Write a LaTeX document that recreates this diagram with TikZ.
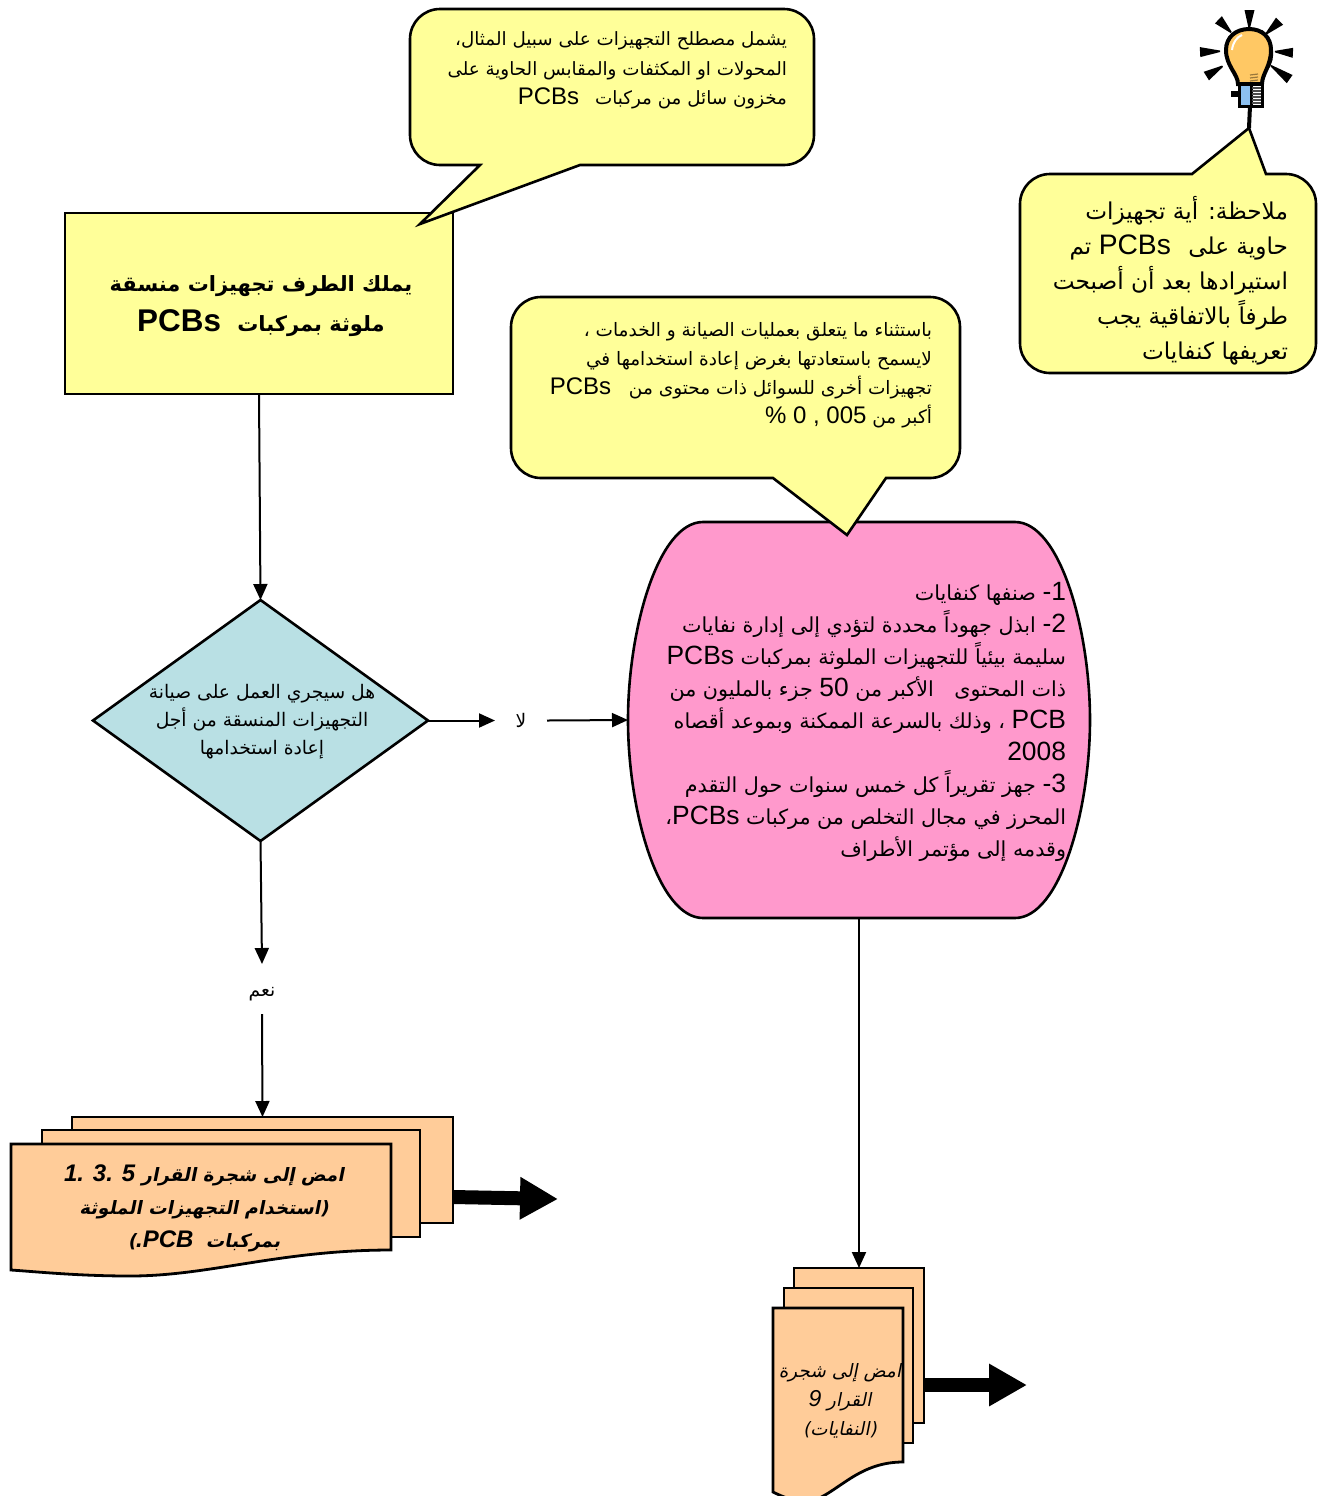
\documentclass[tikz,border=0pt]{standalone}
\usepackage{fontspec}
\usetikzlibrary{arrows.meta,shapes.geometric}
\TeXXeTstate=1
\setmainfont{Liberation Sans}
\newfontfamily\arabicfont[Script=Arabic]{DejaVu Sans}
\newfontfamily\arabicslant[Script=Arabic,FakeSlant=0.2]{DejaVu Sans}
\newcommand{\latpt}{12}
\newcommand{\rl}[1]{\beginR #1\endR}
\newcommand{\lat}[1]{\beginL{\fontspec{Liberation Sans}\fontsize{\latpt}{\latpt}\selectfont #1}\endL{}}
\definecolor{notefill}{HTML}{FFFF99}
\definecolor{sheetfill}{HTML}{FFCC99}
\definecolor{wastefill}{HTML}{FF99CC}
\definecolor{askfill}{HTML}{B9E0E4}
\definecolor{bulbfill}{HTML}{FFC864}
\definecolor{capfill}{HTML}{8CC0F0}
\tikzset{
	notebox/.style={draw=black, line width=1.3pt, fill=notefill, rounded corners=15pt},
	sheetbox/.style={draw=black, line width=1.4pt, fill=sheetfill},
	flowline/.style={draw=black, line width=1pt, -{Triangle[length=8pt,width=7pt]}},
	fatline/.style={draw=black, line width=7pt, -{Triangle[length=19pt,width=20pt]}},
	rtext/.style={align=right, inner sep=0pt, anchor=north east, text=black},
	ctext/.style={align=center, inner sep=0pt, text=black},
}
\begin{document}
\begin{tikzpicture}[x=0.5pt, y=-0.5pt, every node/.style={outer sep=0pt}]
	\useasboundingbox (0,0) rectangle (1319,1496);
	% main box and question
	\node[draw=black, line width=1.3pt, fill=notefill, minimum width=194pt, minimum height=90.5pt, inner sep=0pt] (owner) at (259,303.5) {};
	\node[ctext, font=\renewcommand{\latpt}{15.7}\fontsize{10.5}{20}\selectfont\arabicfont\bfseries] (ownertext) at (261,306) {\rl{يملك الطرف تجهيزات منسقة}\\\rl{ملوثة بمركبات\hspace{4.5pt} \lat{PCBs}}};
	\node[diamond, draw=black, line width=1.3pt, fill=askfill, minimum width=167.5pt, minimum height=120.5pt, inner sep=0pt] (ask) at (260.5,720.5) {};
	\node[ctext, font=\fontsize{9.35}{14}\selectfont\arabicfont] (asktext) at (262,722) {\rl{هل سيجري العمل على صيانة}\\\rl{التجهيزات المنسقة من أجل}\\\rl{إعادة استخدامها}};
	\node[inner sep=0pt, minimum width=26pt, font=\fontsize{9.35}{14}\selectfont\arabicfont] (no) at (521,720.5) {\smash{\raisebox{-3.5pt}{\rl{لا}}}};
	\node[inner sep=0pt, minimum height=25pt, font=\fontsize{9.35}{14}\selectfont\arabicfont] (yes) at (262,989) {\smash{\raisebox{-3.5pt}{\rl{نعم}}}};
	% waste action box
	\fill[draw=black, line width=1.3pt, fill=wastefill] (703,522) -- (1015,522) .. controls (1060,522) and (1090,630) .. (1090,720) .. controls (1090,810) and (1060,918) .. (1015,918) -- (703,918) .. controls (658,918) and (628,810) .. (628,720) .. controls (628,630) and (658,522) .. (703,522) -- cycle;
	\node[inner sep=0pt, minimum width=231pt, minimum height=198pt] (waste) at (859,720) {};
	\node[rtext, font=\renewcommand{\latpt}{13.2}\fontsize{10.35}{16}\selectfont\arabicfont] (wastetext) at (1066,582) {\rl{\lat{1}\lat{-} صنفها كنفايات}\\\rl{\lat{2}\lat{-} ابذل جهوداً محددة لتؤدي إلى إدارة نفايات}\\\rl{سليمة بيئياً للتجهيزات الملوثة بمركبات \lat{PCBs}}\\\rl{ذات المحتوى\hspace{7pt} الأكبر من \lat{50} جزء بالمليون من}\\\rl{\lat{PCB} ، وذلك بالسرعة الممكنة وبموعد أقصاه}\\\rl{\lat{2008}}\\\rl{\lat{3}\lat{-} جهز تقريراً كل خمس سنوات حول التقدم}\\\rl{المحرز في مجال التخلص من مركبات \lat{PCBs}،}\\\rl{وقدمه إلى مؤتمر الأطراف}};
	% callouts
	\draw[notebox] (480,165) -- (410,165) -- (410,9) -- (814,9) -- (814,165) [sharp corners] -- (580,165) -- (420,224) -- cycle;
	\node[rtext, font=\fontsize{9.15}{14.6}\selectfont\arabicfont] (defnote) at (787,32) {\rl{يشمل مصطلح التجهيزات على سبيل المثال،}\\\rl{المحولات او المكثفات والمقابس الحاوية على}\\\rl{مخزون سائل من مركبات\hspace{5pt} \lat{PCBs}}};
	\draw[notebox] (773,478) -- (511,478) -- (511,297) -- (960,297) -- (960,478) [sharp corners] -- (886,478) -- (847,535) -- cycle;
	\node[rtext, font=\fontsize{9.25}{14.6}\selectfont\arabicfont] (reusenote) at (932,322) {\rl{باستثناء ما يتعلق بعمليات الصيانة و الخدمات ،}\\\rl{لايسمح باستعادتها بغرض إعادة استخدامها في}\\\rl{تجهيزات أخرى للسوائل ذات محتوى من\hspace{6pt} \lat{PCBs}}\\\rl{أكبر من \lat{\% 0 , 005}}};
	\draw[notebox] (1192,174) -- (1020,174) -- (1020,373) -- (1316,373) -- (1316,174) [sharp corners] -- (1266,174) -- (1249,128) -- cycle;
	\node[rtext, font=\renewcommand{\latpt}{14.1}\fontsize{11.6}{17.5}\selectfont\arabicfont] (importnote) at (1288,196) {\rl{ملاحظة: أية تجهيزات}\\\rl{حاوية على\hspace{5pt} \lat{PCBs} تم}\\\rl{استيرادها بعد أن أصبحت}\\\rl{طرفاً بالاتفاقية يجب}\\\rl{تعريفها كنفايات}};
	% left stack
	\node[sheetbox, minimum width=190.5pt, minimum height=53pt, inner sep=0pt] (backl) at (262.5,1170) {};
	\node[sheetbox, minimum width=189pt, minimum height=53.5pt, inner sep=0pt] (midl) at (231,1183.5) {};
	\draw[sheetbox] (11,1144) -- (391,1144) -- (391,1250) .. controls (280,1250) and (210,1276) .. (130,1276) .. controls (80,1276) and (40,1272) .. (11,1270) -- cycle;
	\node[ctext, font=\renewcommand{\latpt}{12}\fontsize{9.2}{16.5}\selectfont\arabicslant\bfseries] (lefttext) at (204,1208) {\rl{امض إلى شجرة القرار \lat{\bfseries\itshape 1. 3. 5}}\\\rl{(استخدام التجهيزات الملوثة}\\\rl{بمركبات\hspace{3pt} \lat{\bfseries\itshape .PCB})}};
	% right stack
	\node[sheetbox, minimum width=65pt, minimum height=77.5pt, inner sep=0pt] (backr) at (859,1345.5) {};
	\node[sheetbox, minimum width=64.5pt, minimum height=77.5pt, inner sep=0pt] (midr) at (848.5,1365.5) {};
	\draw[sheetbox] (773,1308) -- (903,1308) -- (903,1462) .. controls (860,1462) and (840,1490) .. (815,1500) .. controls (800,1504) and (785,1498) .. (773,1492) -- cycle;
	\node[ctext, font=\renewcommand{\latpt}{11.5}\fontsize{9.2}{14.5}\selectfont\arabicslant] (righttext) at (840,1401) {\rl{امض إلى شجرة}\\\rl{القرار \lat{\itshape 9}}\\\rl{(النفايات)}};
	% connectors
	\coordinate (exitl) at (558,1199);
	\coordinate (exitr) at (1027,1385);
	\draw[flowline] (owner.south) -- (ask.north);
	\draw[flowline] (ask.east) -- (no.west);
	\draw[flowline] (no.east) -- (waste.west);
	\draw[flowline] (ask.south) -- (yes.north);
	\draw[flowline] (yes.south) -- (backl.north);
	\draw[flowline] (waste.south) -- (backr.north);
	\draw[fatline] ([yshift=-13.5pt]backl.east) -- (exitl);
	\draw[fatline] ([yshift=-19.75pt]backr.east) -- (exitr);
	% bulb
	\foreach \rayang/\rayin/\rayout in {0/22/40, 46/25/43, -46/23/42, 93/29/49, -93/26/44, 122/31/50, -125/27/50} {
		\fill[black, rotate around={\rayang:(1249,50)}] (1248.5,50-\rayin) -- (1250,50-\rayin) -- (1254.5,50-\rayout) -- (1244.5,50-\rayout) -- cycle;
	}
	\draw[black, line width=2pt] (1250,106) -- (1249,128);
	\fill[black] (1231,91) rectangle (1240,97);
	\draw[black, line width=2pt, fill=bulbfill] (1238,84) .. controls (1238,74) and (1226,66) .. (1226,50) .. controls (1226,37) and (1236,29) .. (1249,29) .. controls (1262,29) and (1271,37) .. (1271,50) .. controls (1271,66) and (1262,74) .. (1262,84) -- cycle;
	\draw[black, line width=1.5pt] (1261,31) .. controls (1272,38) and (1276,58) .. (1266,70);
	\draw[white, line width=1pt] (1232,50) .. controls (1233,42) and (1237,37) .. (1242,35);
	\draw[bulbfill!60!black, line width=0.6pt] (1250,75) -- (1258,74) (1250,78) -- (1258,77) (1250,81) -- (1258,80);
	\draw[black, line width=1.5pt, fill=capfill] (1239,84) rectangle (1251,106);
	\draw[black, line width=1.5pt, fill=white] (1251,84) rectangle (1262,106);
	\foreach \thready in {88,91,94,97,100,103} {
		\draw[black!70, line width=0.7pt] (1252,\thready) -- (1261,\thready);
	}
\end{tikzpicture}
\end{document}
